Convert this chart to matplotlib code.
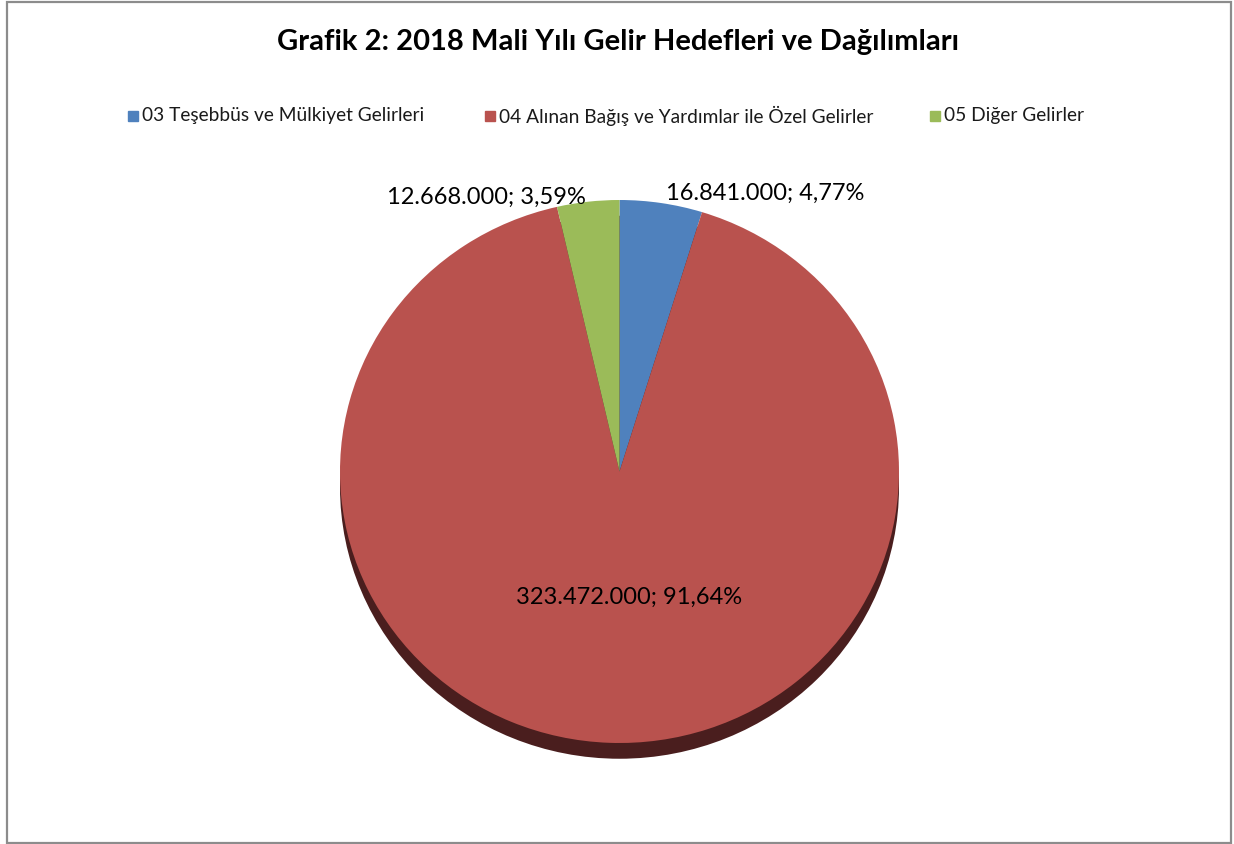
import matplotlib
matplotlib.use("Agg")
import matplotlib.pyplot as plt
from matplotlib.patches import Ellipse, Rectangle

plt.rcParams['font.family'] = ['Lato', 'DejaVu Sans']

# data
categories = ["03 Teşebbüs ve Mülkiyet Gelirleri",
              "04 Alınan Bağış ve Yardımlar ile Özel Gelirler",
              "05 Diğer Gelirler"]
values = [16841000, 323472000, 12668000]
value_labels = ["16.841.000; 4,77%", "323.472.000; 91,64%", "12.668.000; 3,59%"]
colors = ["#4F81BD", "#B9524E", "#9BBB59"]
title = "Grafik 2: 2018 Mali Yılı Gelir Hedefleri ve Dağılımları"

W, H = 1234, 844
fig = plt.figure(figsize=(W / 100, H / 100), dpi=100)
fig.patch.set_facecolor("white")

# outer border
fig.patches.append(Rectangle((7 / W, 1 / H), (1231 - 7) / W, (842 - 1) / H,
                             transform=fig.transFigure, fill=False,
                             edgecolor="#8c8c8c", linewidth=1.6))

fig.text(618 / W, 1 - 42 / H, title, ha="center", va="center",
         fontsize=21, fontweight="bold", color="#000000")

# legend
leg_x = [128, 485, 930]
for x, lab, c in zip(leg_x, categories, colors):
    fig.patches.append(Rectangle((x / W, 1 - 121 / H), 10 / W, 10 / H,
                                 transform=fig.transFigure, color=c))
    fig.text((x + 14) / W, 1 - 116 / H, lab, ha="left", va="center",
             fontsize=13.8, color="#1a1a1a")

# pie axes (top face spans 340..899 x 200..743 px)
ax = fig.add_axes([340 / W, 1 - 743 / H, 559 / W, 543 / H])
ax.add_patch(Ellipse((0, -0.058), 2, 2, facecolor="#4A1E1E", edgecolor="none",
                     zorder=0, clip_on=False))
wedges, _ = ax.pie(values, colors=colors, startangle=90, counterclock=False,
                   wedgeprops=dict(linewidth=0))
for w in wedges:
    w.set_zorder(2)
    w.set_clip_on(False)
ax.set_xlim(-1, 1)
ax.set_ylim(-1, 1)
ax.set_aspect("auto")
ax.axis("off")

# data labels
label_pos = [(765, 193), (629, 597), (486, 197)]
for (px, py), txt in zip(label_pos, value_labels):
    fig.text(px / W, 1 - py / H, txt, ha="center", va="center",
             fontsize=17, color="#000000", zorder=5)

fig.savefig("out.png", dpi=100, facecolor="white")
